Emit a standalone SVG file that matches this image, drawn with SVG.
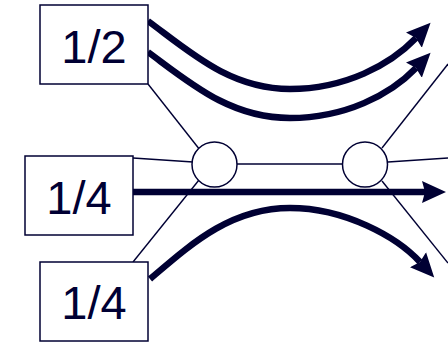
<svg xmlns="http://www.w3.org/2000/svg" width="448" height="342" viewBox="0 0 448 342">
<style>
.box{fill:#fff;stroke:#000033;stroke-width:1.5}
.lbl{font-family:"Liberation Sans",Arial,sans-serif;font-size:47px;fill:#000033;text-anchor:middle}
.thin{fill:none;stroke:#000033;stroke-width:1.4}
.thick{fill:none;stroke:#000033;stroke-width:6.5;marker-end:url(#ah)}
.node{fill:#fff;stroke:#000033;stroke-width:1.5}
</style>
<defs>
<marker id="ah" markerUnits="userSpaceOnUse" markerWidth="26" markerHeight="24" viewBox="0 0 26 24" refX="3" refY="12" orient="auto">
<path d="M0,1 L24,12 L0,23 L3,12 z" fill="#000033"/>
</marker>
</defs>
<g id="connectors">
<line class="thin" x1="148" y1="84" x2="200" y2="150"/>
<line class="thin" x1="133" y1="158" x2="193" y2="162"/>
<line class="thin" x1="237" y1="164" x2="342" y2="164"/>
<line class="thin" x1="382" y1="148" x2="448" y2="64"/>
<line class="thin" x1="388" y1="162" x2="448" y2="158"/>
<line class="thin" x1="382" y1="181" x2="448" y2="263"/>
<line class="thin" x1="199" y1="180" x2="133" y2="262"/>
<path class="thick" d="M148,21 C190,52 230,89 290,89 C345,89 390,65 416,38"/>
<path class="thick" d="M148,52 C190,83 230,118 290,118 C345,118 390,95 416,68"/>
<path class="thick" d="M133,192 L425,192"/>
<path class="thick" d="M150,279 C190,245 230,208 290,208 C345,208 397,237 420,262"/>
</g>
<g id="node-half">
<rect class="box" x="40" y="5" width="108" height="79"/>
<text class="lbl" x="94" y="63">1/2</text>
</g>
<g id="node-quarter-mid">
<rect class="box" x="25" y="156" width="108" height="79"/>
<text class="lbl" x="79" y="214">1/4</text>
</g>
<g id="node-quarter-bottom">
<rect class="box" x="40" y="262" width="108" height="79"/>
<text class="lbl" x="94" y="319">1/4</text>
</g>
<g id="junction-left">
<circle class="node" cx="214.5" cy="164.5" r="22.5"/>
</g>
<g id="junction-right">
<circle class="node" cx="365" cy="164.5" r="22.5"/>
</g>
</svg>
